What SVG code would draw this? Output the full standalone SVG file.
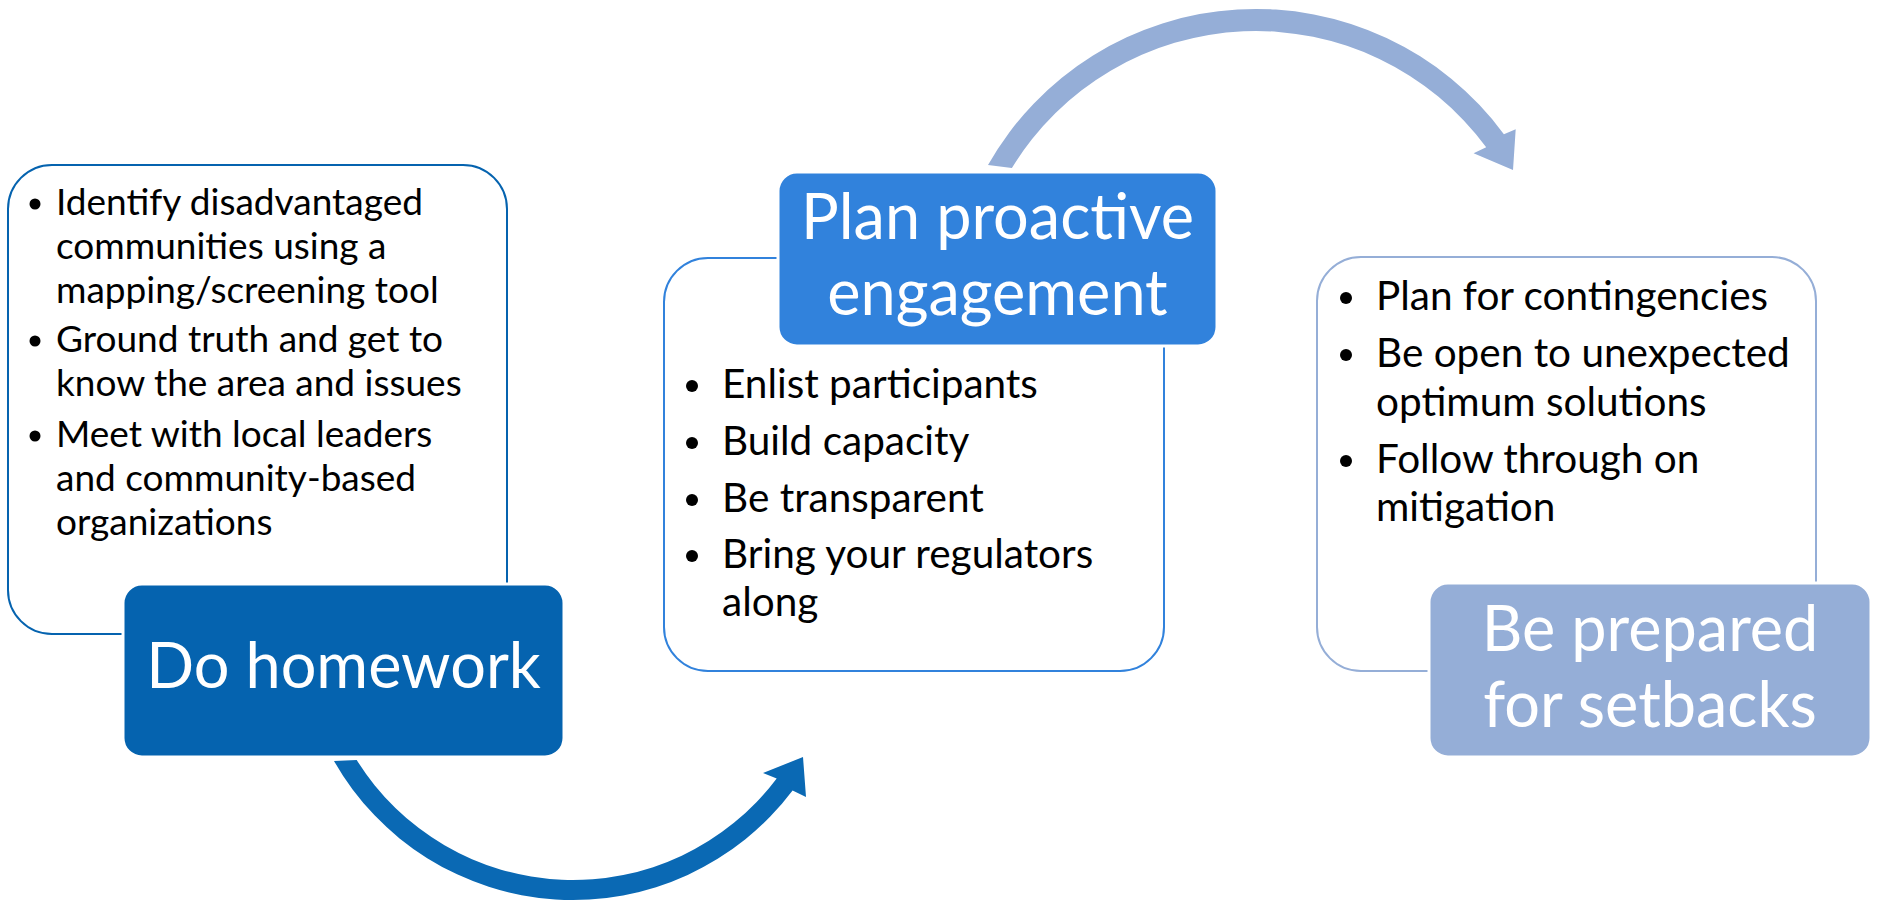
<svg xmlns="http://www.w3.org/2000/svg" width="1877" height="901" viewBox="0 0 1877 901">
<style>
.bg{fill:#ffffff}
.outline{fill:#ffffff;stroke-width:2}
.hdr{stroke:#ffffff;stroke-width:3}
.title{font-family:Lato,"Open Sans","Liberation Sans",sans-serif;font-size:63px;fill:#ffffff;text-anchor:middle}
.item{font-family:Lato,"Open Sans","Liberation Sans",sans-serif;fill:#000000}
.s37{font-size:37px}
.s40{font-size:40.5px}
.dot{fill:#000000}
</style>
<rect class="bg" x="0" y="0" width="1877" height="901"/>
<g id="connectors">
  <path id="arrow-1-2" fill="#0A69B4" d="M334,761 A275,275 0 0 0 792.6,790.5 L806,797 L803,757 L763,773 L776.7,778.5 A255,255 0 0 1 356.7,760 Z"/>
  <path id="arrow-2-3" fill="#95AED7" d="M988,165 A308,308 0 0 1 1503.9,134.2 L1515.7,129.3 L1513,170 L1473.6,153.3 L1486.2,147.3 A286,286 0 0 0 1011.9,168 Z"/>
</g>
<g id="node-homework">
  <rect class="outline" x="8" y="165" width="499" height="469" rx="44" ry="44" stroke="#0563AF"/>
  <g class="item s37">
    <circle class="dot" cx="35" cy="204" r="5.5"/>
    <text x="56" y="215">Identify disadvantaged</text>
    <text x="56" y="259">communities using a</text>
    <text x="56" y="303">mapping/screening tool</text>
    <circle class="dot" cx="35" cy="341" r="5.5"/>
    <text x="56" y="352">Ground truth and get to</text>
    <text x="56" y="396">know the area and issues</text>
    <circle class="dot" cx="35" cy="436" r="5.5"/>
    <text x="56" y="447">Meet with local leaders</text>
    <text x="56" y="491">and community-based</text>
    <text x="56" y="535">organizations</text>
  </g>
  <rect class="hdr" x="123" y="584" width="441" height="173" rx="19" ry="19" fill="#0563AF"/>
  <text class="title" x="343.5" y="688">Do homework</text>
</g>
<g id="node-plan">
  <rect class="outline" x="664" y="258" width="500" height="413" rx="44" ry="44" stroke="#3182DC"/>
  <g class="item s40">
    <circle class="dot" cx="692" cy="386" r="6"/>
    <text x="722" y="398">Enlist participants</text>
    <circle class="dot" cx="692" cy="443" r="6"/>
    <text x="722" y="455">Build capacity</text>
    <circle class="dot" cx="692" cy="500" r="6"/>
    <text x="722" y="512">Be transparent</text>
    <circle class="dot" cx="692" cy="556" r="6"/>
    <text x="722" y="568">Bring your regulators</text>
    <text x="722" y="616">along</text>
  </g>
  <rect class="hdr" x="778" y="172" width="439" height="174" rx="19" ry="19" fill="#3182DC"/>
  <text class="title" x="997.5" y="239">Plan proactive</text>
  <text class="title" x="997.5" y="315">engagement</text>
</g>
<g id="node-setbacks">
  <rect class="outline" x="1317" y="257" width="499" height="414" rx="44" ry="44" stroke="#95AED7"/>
  <g class="item s40">
    <circle class="dot" cx="1346" cy="298" r="6"/>
    <text x="1376" y="310">Plan for contingencies</text>
    <circle class="dot" cx="1346" cy="355" r="6"/>
    <text x="1376" y="367">Be open to unexpected</text>
    <text x="1376" y="416">optimum solutions</text>
    <circle class="dot" cx="1346" cy="461" r="6"/>
    <text x="1376" y="473">Follow through on</text>
    <text x="1376" y="521">mitigation</text>
  </g>
  <rect class="hdr" x="1429" y="583" width="442" height="174" rx="19" ry="19" fill="#95AED7"/>
  <text class="title" x="1650" y="651">Be prepared</text>
  <text class="title" x="1650" y="727">for setbacks</text>
</g>
</svg>
